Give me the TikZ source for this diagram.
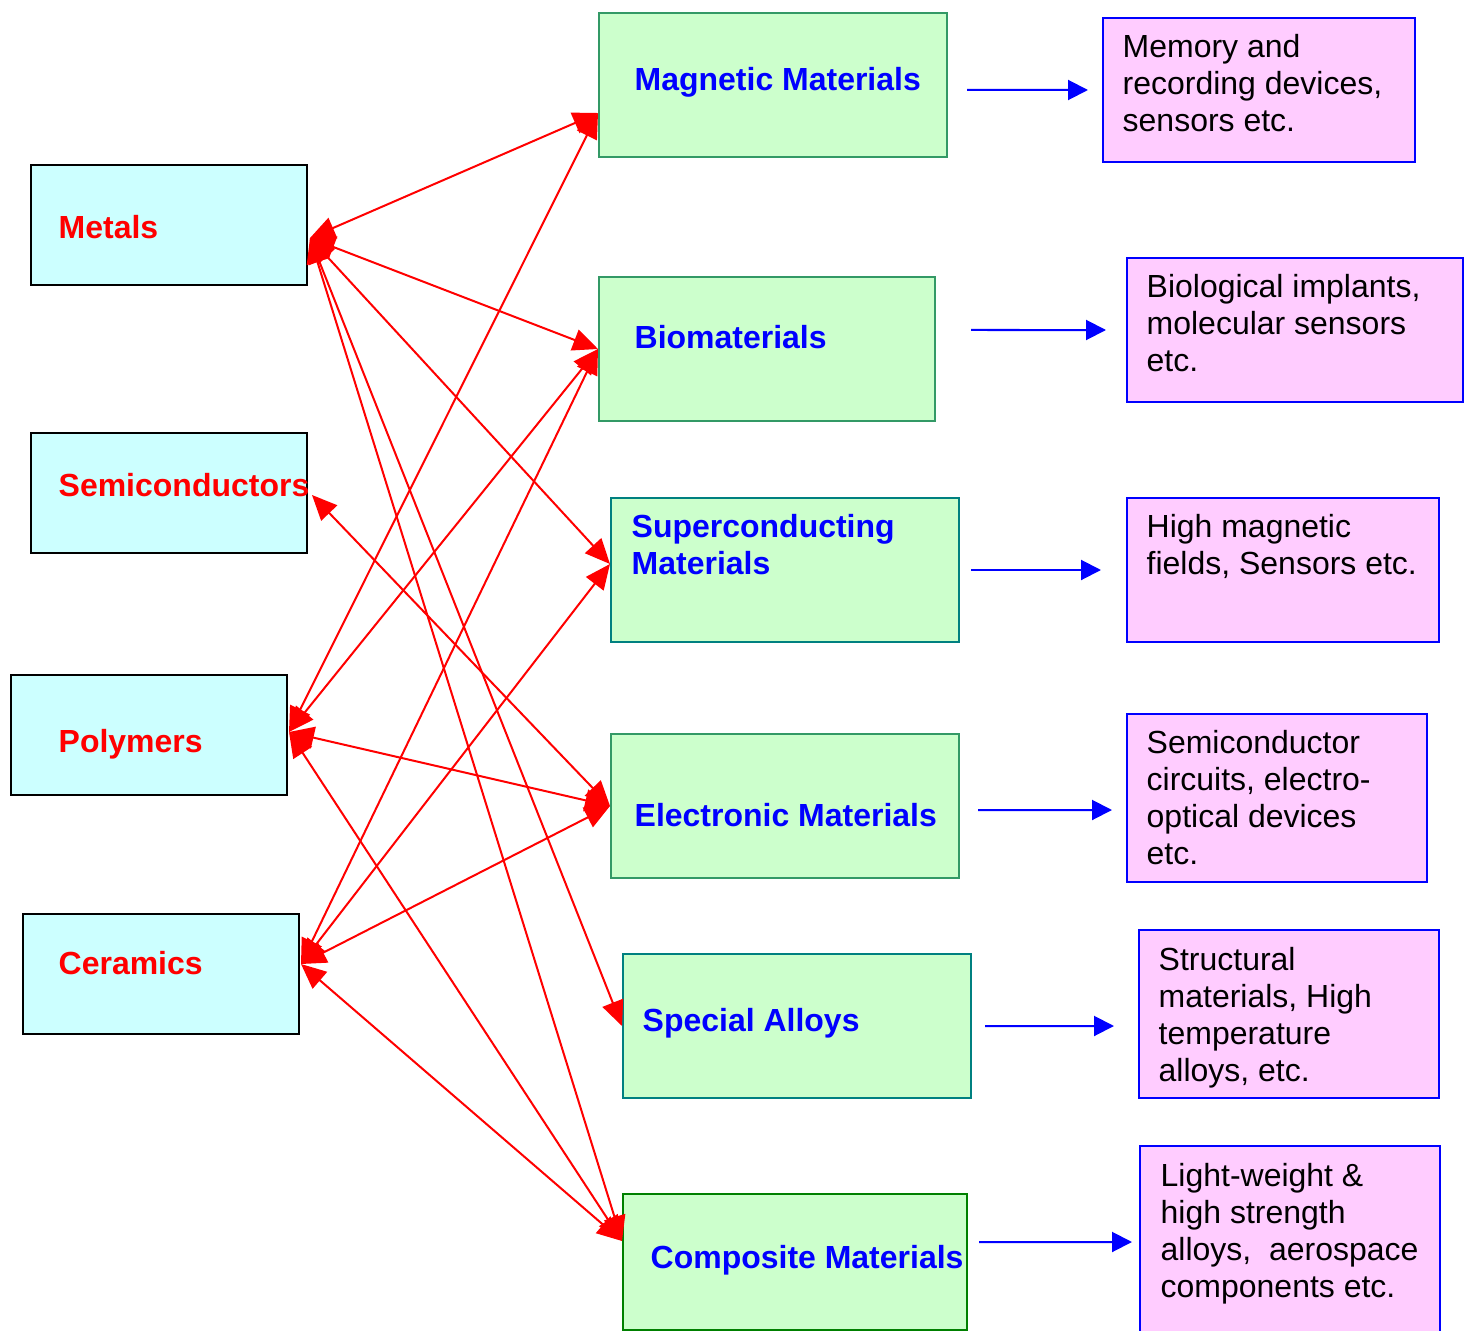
\documentclass[tikz,border=0pt]{standalone}
\usepackage{fontspec}
\setmainfont{Liberation Sans}
\usetikzlibrary{arrows.meta,calc}
\definecolor{leftfill}{HTML}{CCFFFF}
\definecolor{midfill}{HTML}{CCFFCC}
\definecolor{rightfill}{HTML}{FFCCFF}
\definecolor{midline}{HTML}{339966}
\definecolor{tealline}{HTML}{008080}
\definecolor{darkline}{HTML}{008000}
\newcommand\boxfont{\fontsize{9.1}{10.5}\selectfont}

\begin{document}
\begin{tikzpicture}[
    every node/.style={inner sep=0pt},
    leftbox/.style={draw=black, fill=leftfill, line width=0.02cm, anchor=north west,
                    minimum width=2.76cm, minimum height=1.2cm},
    midbox/.style={draw=midline, fill=midfill, line width=0.02cm, anchor=north west,
                   minimum height=1.44cm},
    rightbox/.style={draw=blue, fill=rightfill, line width=0.02cm, anchor=north west},
    lefttext/.style={anchor=west, text=red, font=\boxfont\bfseries},
    midtext/.style={anchor=west, text=blue, font=\boxfont\bfseries, align=left},
    righttext/.style={anchor=north west, font=\boxfont, align=left},
    link/.style={red, line width=0.02cm,
                 {Triangle[length=0.25cm,width=0.22cm]}-{Triangle[length=0.25cm,width=0.22cm]}},
    app/.style={blue, line width=0.02cm, -{Triangle[length=0.2cm,width=0.2cm]}}
  ]
\useasboundingbox (0,0) rectangle (14.69,-13.31);

%classes of materials
	\foreach \name/\xy/\ty/\txt in {metals/{(0.30,-1.64)}/-2.27/Metals,
	                               semi/{(0.30,-4.32)}/-4.85/Semiconductors,
	                               polymers/{(0.10,-6.74)}/-7.44/Polymers,
	                               ceramics/{(0.22,-9.13)}/-9.63/Ceramics}{
		\node[leftbox] (\name) at \xy {};
		\node[lefttext] (\name-t) at (0.58,\ty) {\txt};
	}

%advanced materials
	\node[midbox, minimum width=3.48cm] (magnetic) at (5.98,-0.12) {};
	\node[midbox, minimum width=3.36cm] (bio) at (5.98,-2.76) {};
	\node[midbox, draw=tealline, minimum width=3.48cm] (supercond) at (6.10,-4.97) {};
	\node[midbox, minimum width=3.48cm] (electronic) at (6.10,-7.33) {};
	\node[midbox, draw=tealline, minimum width=3.48cm] (special) at (6.22,-9.53) {};
	\node[midbox, draw=darkline, minimum width=3.44cm, minimum height=1.36cm] (composite) at (6.22,-11.93) {};

	\node[midtext] (magnetic-t) at (6.34,-0.82) {Magnetic Materials};
	\node[midtext] (bio-t) at (6.34,-3.37) {Biomaterials};
	\node[midtext, anchor=north west] (supercond-t) at (6.31,-5.14) {Superconducting\\Materials};
	\node[midtext] (electronic-t) at (6.34,-8.15) {Electronic Materials};
	\node[midtext] (special-t) at (6.42,-10.23) {Special Alloys};
	\node[midtext] (composite-t) at (6.50,-12.60) {Composite Materials};

%applications
	\node[rightbox, minimum width=3.12cm, minimum height=1.44cm] (memory) at (11.02,-0.17) {};
	\node[rightbox, minimum width=3.36cm, minimum height=1.44cm] (implants) at (11.26,-2.57) {};
	\node[rightbox, minimum width=3.12cm, minimum height=1.44cm] (fields) at (11.26,-4.97) {};
	\node[rightbox, minimum width=3.00cm, minimum height=1.68cm] (circuits) at (11.26,-7.13) {};
	\node[rightbox, minimum width=3.00cm, minimum height=1.68cm] (structural) at (11.38,-9.29) {};
	\node[rightbox, minimum width=3.00cm, minimum height=1.90cm] (aerospace) at (11.39,-11.45) {};

	\node[righttext] (memory-t) at (11.22,-0.34) {Memory and\\recording devices,\\sensors etc.};
	\node[righttext] (implants-t) at (11.46,-2.74) {Biological implants,\\molecular sensors\\etc.};
	\node[righttext] (fields-t) at (11.46,-5.14) {High magnetic\\fields, Sensors etc.};
	\node[righttext] (circuits-t) at (11.46,-7.30) {Semiconductor\\circuits, electro-\\optical devices\\etc.};
	\node[righttext] (structural-t) at (11.58,-9.47) {Structural\\materials, High\\temperature\\alloys, etc.};
	\node[righttext] (aerospace-t) at (11.60,-11.63) {Light-weight \&\\high strength\\alloys,\ \ aerospace\\components etc.};

%ports
	\coordinate (metals-p) at ($(metals.east)+(0.02,-0.13)$);
	\coordinate (semi-p) at ($(semi.east)+(0.04,-0.02)$);
	\coordinate (polymers-p) at ($(polymers.east)+(0.01,0.03)$);
	\coordinate (ceramics-p) at ($(ceramics.east)+(0.01,0.10)$);
	\coordinate (magnetic-p) at ($(magnetic.west)+(0,-0.28)$);
	\coordinate (bio-p) at (bio.west);
	\coordinate (supercond-p) at ($(supercond.west)+(0,0.06)$);
	\coordinate (electronic-p) at (electronic.west);
	\coordinate (special-p) at (special.west);
	\coordinate (composite-p) at ($(composite.west)+(0,0.21)$);

%links
	\foreach \a/\b in {metals/magnetic, metals/bio, metals/supercond, metals/special, metals/composite,
	                   semi/electronic,
	                   polymers/magnetic, polymers/bio, polymers/electronic, polymers/composite,
	                   ceramics/bio, ceramics/supercond, ceramics/electronic, ceramics/composite}{
		\draw[link] (\a-p) -- (\b-p);
	}

%uses
	\draw[app] ($(magnetic.east)+(0.19,-0.05)$) -- ($(memory.west)+(-0.14,0)$);
	\draw[app] ($(bio.east)+(0.35,0.19)$) -- ($(implants.west)+(-0.20,0)$);
	\draw[app] ($(supercond.east)+(0.11,0)$) -- ($(fields.west)+(-0.25,0)$);
	\draw[app] ($(electronic.east)+(0.18,-0.04)$) -- ($(circuits.west)+(-0.14,-0.12)$);
	\draw[app] ($(special.east)+(0.13,0)$) -- ($(structural.west)+(-0.24,-0.12)$);
	\draw[app] ($(composite.east)+(0.11,0.20)$) -- ($(aerospace.west)+(-0.07,-0.01)$);

\end{tikzpicture}
\end{document}
